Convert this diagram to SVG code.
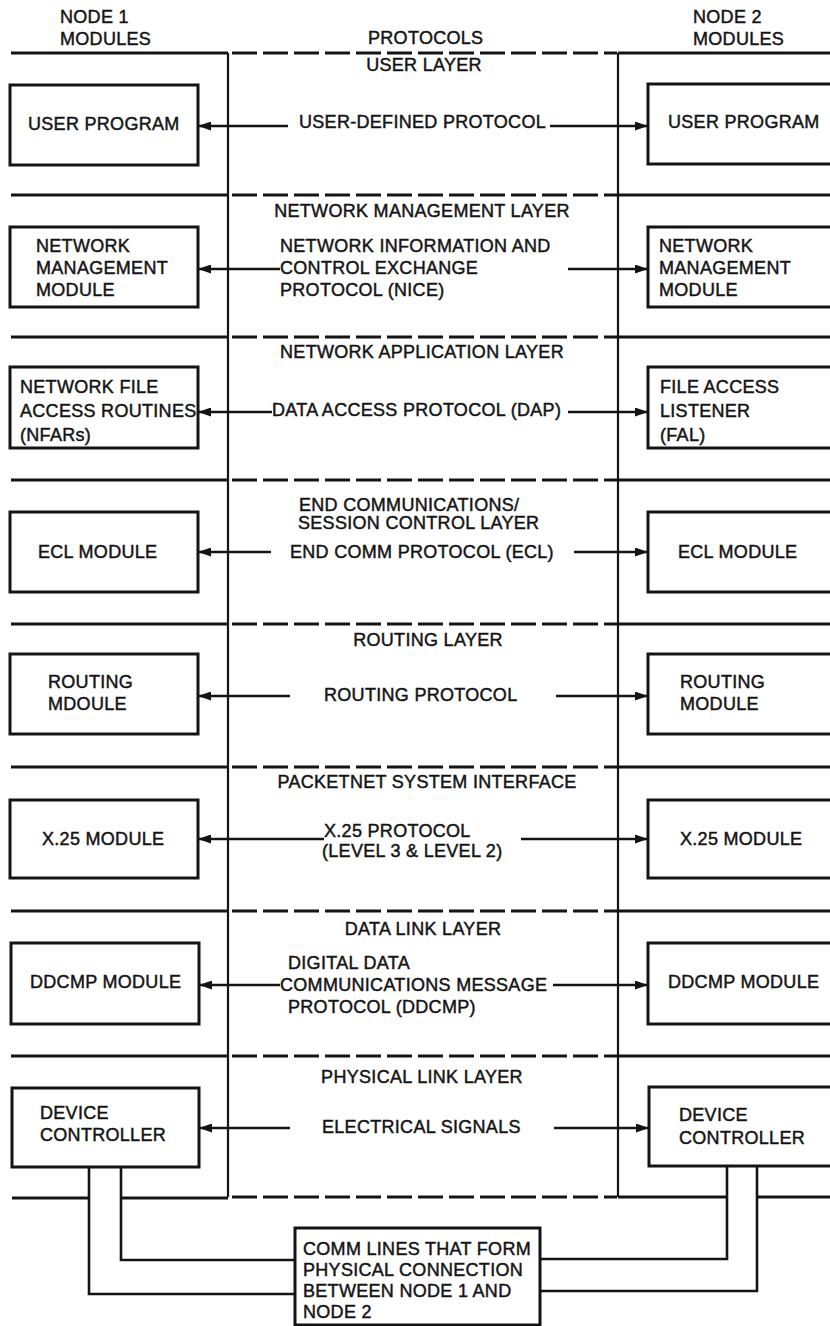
<svg xmlns="http://www.w3.org/2000/svg" width="830" height="1326" viewBox="0 0 830 1326">
<style>
text{font-family:"Liberation Sans",Arial,sans-serif;font-size:18px;fill:#141414;stroke:#141414;stroke-width:0.45px;letter-spacing:0.3px}
.mid{text-anchor:middle}
.box{fill:none;stroke:#141414;stroke-width:3}
.sep{stroke:#141414;stroke-width:3;fill:none}
.dash{stroke:#141414;stroke-width:3;stroke-dasharray:25 6;fill:none}
.vl{stroke:#141414;stroke-width:2.2;fill:none}
.arr{stroke:#141414;stroke-width:2.4;fill:none;marker-end:url(#ah)}
.wire{stroke:#141414;stroke-width:2.6;fill:none}
</style>
<defs>
<marker id="ah" markerUnits="userSpaceOnUse" markerWidth="13" markerHeight="9" refX="12" refY="4.5" orient="auto">
<path d="M0,0 L13,4.5 L0,9 z" fill="#141414"/>
</marker>
</defs>
<rect width="830" height="1326" fill="#fff"/>

<g id="frame">
<text x="60" y="23">NODE 1</text>
<text x="60" y="45">MODULES</text>
<text x="368" y="44">PROTOCOLS</text>
<text x="693" y="23">NODE 2</text>
<text x="693" y="45">MODULES</text>
<path class="sep" d="M11,53H228M618,53H830M11,195H228M618,195H830M11,337H228M618,337H830M11,480H228M618,480H830M11,624H228M618,624H830M11,767H228M618,767H830M11,911H228M618,911H830M11,1056H228M618,1056H830M12,1198H89M121,1198H228M618,1197H727M757,1197H830"/>
<path class="dash" d="M232,53H617M232,195H617M232,337H617M232,480H617M232,624H617M232,767H617M232,911H617M232,1056H617M232,1197H617"/>
<path class="vl" d="M228,53V1197M618,53V1197"/>
<text class="mid" x="424" y="71">USER LAYER</text>
<text class="mid" x="422" y="217">NETWORK MANAGEMENT LAYER</text>
<text class="mid" x="422" y="358">NETWORK APPLICATION LAYER</text>
<text x="299" y="511">END COMMUNICATIONS/</text>
<text x="298" y="529">SESSION CONTROL LAYER</text>
<text class="mid" x="428" y="646">ROUTING LAYER</text>
<text class="mid" x="427" y="788">PACKETNET SYSTEM INTERFACE</text>
<text class="mid" x="423" y="935">DATA LINK LAYER</text>
<text class="mid" x="422" y="1083">PHYSICAL LINK LAYER</text>
</g>

<g id="n1-user"><rect class="box" x="10" y="85" width="188" height="80"/><text x="28" y="130">USER PROGRAM</text></g>
<g id="n2-user"><rect class="box" x="648" y="84" width="200" height="80"/><text x="668" y="128">USER PROGRAM</text></g>

<g id="n1-nm"><rect class="box" x="10" y="227" width="188" height="80"/><text x="36" y="252">NETWORK</text><text x="36" y="274">MANAGEMENT</text><text x="36" y="296">MODULE</text></g>
<g id="n2-nm"><rect class="box" x="648" y="227" width="200" height="80"/><text x="659" y="252">NETWORK</text><text x="659" y="274">MANAGEMENT</text><text x="659" y="296">MODULE</text></g>

<g id="n1-nfar"><rect class="box" x="10" y="367" width="188" height="81"/><text x="20" y="393">NETWORK FILE</text><text x="20" y="417">ACCESS ROUTINES</text><text x="20" y="441">(NFARs)</text></g>
<g id="n2-fal"><rect class="box" x="648" y="367" width="200" height="81"/><text x="660" y="393">FILE ACCESS</text><text x="660" y="417">LISTENER</text><text x="660" y="441">(FAL)</text></g>

<g id="n1-ecl"><rect class="box" x="10" y="512" width="188" height="80"/><text x="38" y="558">ECL MODULE</text></g>
<g id="n2-ecl"><rect class="box" x="648" y="512" width="200" height="80"/><text x="678" y="558">ECL MODULE</text></g>

<g id="n1-rt"><rect class="box" x="10" y="654" width="188" height="80"/><text x="48" y="688">ROUTING</text><text x="48" y="710">MDOULE</text></g>
<g id="n2-rt"><rect class="box" x="648" y="654" width="200" height="80"/><text x="680" y="688">ROUTING</text><text x="680" y="710">MODULE</text></g>

<g id="n1-x25"><rect class="box" x="10" y="800" width="188" height="78"/><text x="42" y="845">X.25 MODULE</text></g>
<g id="n2-x25"><rect class="box" x="648" y="800" width="200" height="78"/><text x="680" y="845">X.25 MODULE</text></g>

<g id="n1-ddcmp"><rect class="box" x="11" y="943" width="188" height="81"/><text x="30" y="988">DDCMP MODULE</text></g>
<g id="n2-ddcmp"><rect class="box" x="648" y="943" width="200" height="81"/><text x="668" y="988">DDCMP MODULE</text></g>

<g id="n1-dev"><rect class="box" x="12" y="1088" width="187" height="79"/><text x="40" y="1119">DEVICE</text><text x="40" y="1141">CONTROLLER</text></g>
<g id="n2-dev"><rect class="box" x="649" y="1087" width="200" height="79"/><text x="679" y="1121">DEVICE</text><text x="679" y="1144">CONTROLLER</text></g>

<g id="comm"><rect class="box" x="295" y="1228" width="245" height="97"/>
<text x="303" y="1255">COMM LINES THAT FORM</text><text x="303" y="1276">PHYSICAL CONNECTION</text><text x="303" y="1297">BETWEEN NODE 1 AND</text><text x="303" y="1318">NODE 2</text></g>

<g id="protocol-labels">
<text x="299" y="128">USER-DEFINED PROTOCOL</text>
<text x="280" y="252">NETWORK INFORMATION AND</text>
<text x="280" y="274">CONTROL EXCHANGE</text>
<text x="280" y="296">PROTOCOL (NICE)</text>
<text x="272" y="416">DATA ACCESS PROTOCOL (DAP)</text>
<text x="290" y="558">END COMM PROTOCOL (ECL)</text>
<text x="324" y="701">ROUTING PROTOCOL</text>
<text x="324" y="837">X.25 PROTOCOL</text>
<text x="322" y="857">(LEVEL 3 &amp; LEVEL 2)</text>
<text x="288" y="969">DIGITAL DATA</text>
<text x="280" y="991">COMMUNICATIONS MESSAGE</text>
<text x="288" y="1013">PROTOCOL (DDCMP)</text>
<text x="322" y="1133">ELECTRICAL SIGNALS</text>
</g>

<g id="connectors">
<line class="arr" x1="288" y1="126" x2="199" y2="126"/>
<line class="arr" x1="550" y1="126" x2="647" y2="126"/>
<line class="arr" x1="280" y1="269" x2="199" y2="269"/>
<line class="arr" x1="568" y1="269" x2="647" y2="269"/>
<line class="arr" x1="272" y1="412" x2="199" y2="412"/>
<line class="arr" x1="568" y1="412" x2="647" y2="412"/>
<line class="arr" x1="271" y1="552" x2="199" y2="552"/>
<line class="arr" x1="574" y1="552" x2="647" y2="552"/>
<line class="arr" x1="290" y1="696" x2="199" y2="696"/>
<line class="arr" x1="556" y1="696" x2="647" y2="696"/>
<line class="arr" x1="324" y1="839" x2="199" y2="839"/>
<line class="arr" x1="521" y1="839" x2="647" y2="839"/>
<line class="arr" x1="280" y1="985" x2="200" y2="985"/>
<line class="arr" x1="553" y1="985" x2="647" y2="985"/>
<line class="arr" x1="290" y1="1128" x2="200" y2="1128"/>
<line class="arr" x1="554" y1="1128" x2="648" y2="1128"/>
<path class="wire" d="M89,1167V1294H295M121,1167V1260H295M727,1166V1259H540M757,1166V1291H540"/>
</g>
</svg>
